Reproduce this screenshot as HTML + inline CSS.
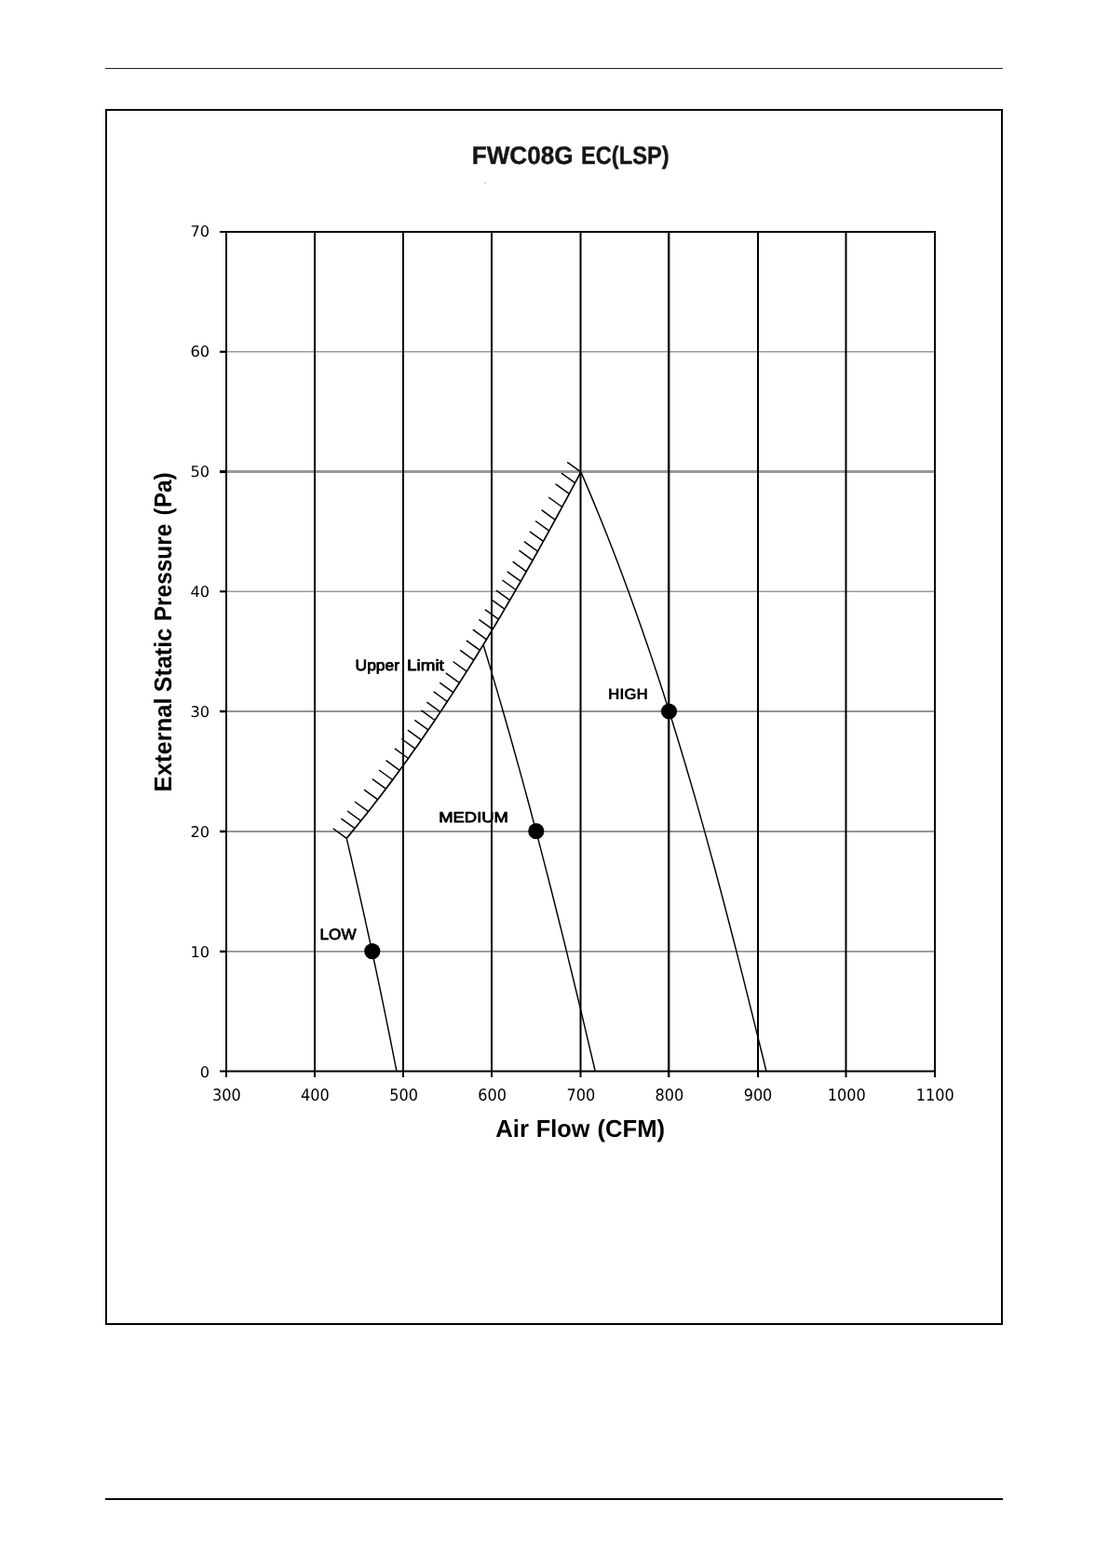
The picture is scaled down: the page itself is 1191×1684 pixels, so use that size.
<!DOCTYPE html>
<html lang="en">
<head>
<meta charset="utf-8">
<title>FWC08G EC(LSP)</title>
<style>
html,body{margin:0;padding:0;background:#fff;}
body{width:1191px;height:1684px;position:relative;overflow:hidden;font-family:"Liberation Sans",sans-serif;}
svg{position:absolute;left:0;top:0;display:block;}
.tk{font-family:"DejaVu Sans","Liberation Sans",sans-serif;font-size:16.5px;fill:#000;}
.b{font-family:"Liberation Sans",sans-serif;font-weight:bold;fill:#000;}
</style>
</head>
<body>
<svg width="1191" height="1684" viewBox="0 0 1191 1684" text-rendering="geometricPrecision">
<rect x="0" y="0" width="1191" height="1684" fill="#fff"/>

<rect x="113" y="73" width="964" height="1" fill="#202020"/>
<rect x="113" y="1609" width="964" height="2" fill="#000"/>
<rect x="114" y="118" width="962" height="1304" fill="none" stroke="#000" stroke-width="2"/>
<line x1="243.0" y1="377.79" x2="1004.0" y2="377.79" stroke="#999" stroke-width="1.6"/>
<line x1="243.0" y1="506.57" x2="1004.0" y2="506.57" stroke="#999" stroke-width="3.0"/>
<line x1="243.0" y1="635.25" x2="1004.0" y2="635.25" stroke="#999" stroke-width="1.5"/>
<line x1="243.0" y1="764.00" x2="1004.0" y2="764.00" stroke="#939393" stroke-width="1.9"/>
<line x1="243.0" y1="892.95" x2="1004.0" y2="892.95" stroke="#939393" stroke-width="1.9"/>
<line x1="243.0" y1="1021.90" x2="1004.0" y2="1021.90" stroke="#919191" stroke-width="1.75"/>
<line x1="243.00" y1="248.0" x2="243.00" y2="1157.0" stroke="#000" stroke-width="2.0"/>
<line x1="338.00" y1="248.0" x2="338.00" y2="1157.0" stroke="#000" stroke-width="2.0"/>
<line x1="433.00" y1="248.0" x2="433.00" y2="1157.0" stroke="#000" stroke-width="2.0"/>
<line x1="528.00" y1="248.0" x2="528.00" y2="1157.0" stroke="#000" stroke-width="2.0"/>
<line x1="623.50" y1="248.0" x2="623.50" y2="1157.0" stroke="#000" stroke-width="2.0"/>
<line x1="718.20" y1="248.0" x2="718.20" y2="1157.0" stroke="#000" stroke-width="2.4"/>
<line x1="814.00" y1="248.0" x2="814.00" y2="1157.0" stroke="#000" stroke-width="2.0"/>
<line x1="908.50" y1="248.0" x2="908.50" y2="1157.0" stroke="#000" stroke-width="2.0"/>
<line x1="1004.00" y1="248.0" x2="1004.00" y2="1157.0" stroke="#000" stroke-width="2.0"/>
<line x1="242.0" y1="249.0" x2="1005.0" y2="249.0" stroke="#000" stroke-width="2"/>
<line x1="236.0" y1="1150.5" x2="1005.0" y2="1150.5" stroke="#000" stroke-width="2"/>
<line x1="236" y1="249.00" x2="243.0" y2="249.00" stroke="#000" stroke-width="2.0"/>
<line x1="236" y1="377.79" x2="243.0" y2="377.79" stroke="#000" stroke-width="2.2"/>
<line x1="236" y1="506.57" x2="243.0" y2="506.57" stroke="#000" stroke-width="3.0"/>
<line x1="236" y1="635.25" x2="243.0" y2="635.25" stroke="#000" stroke-width="2.1"/>
<line x1="236" y1="764.00" x2="243.0" y2="764.00" stroke="#000" stroke-width="2.5"/>
<line x1="236" y1="892.95" x2="243.0" y2="892.95" stroke="#000" stroke-width="2.5"/>
<line x1="236" y1="1021.90" x2="243.0" y2="1021.90" stroke="#000" stroke-width="2.35"/>
<g fill="none" stroke="#000" stroke-width="1.5" stroke-linejoin="round" stroke-linecap="butt">
<polyline points="372.30,900.30 377.80,893.64 383.23,886.98 388.60,880.32 393.91,873.66 399.15,867.00 404.33,860.34 409.45,853.68 414.52,847.03 419.53,840.37 424.48,833.71 429.38,827.05 434.23,820.39 439.03,813.73 443.77,807.07 448.48,800.41 453.13,793.75 457.74,787.09 462.30,780.43 466.82,773.77 471.30,767.11 475.74,760.45 480.14,753.79 484.50,747.14 488.82,740.48 493.11,733.82 497.36,727.16 501.58,720.50 505.77,713.84 509.92,707.18 514.04,700.52 518.14,693.86 522.20,687.20 526.23,680.54 530.24,673.88 534.22,667.22 538.18,660.56 542.10,653.91 546.01,647.25 549.89,640.59 553.75,633.93 557.59,627.27 561.40,620.61 565.20,613.95 568.97,607.29 572.73,600.63 576.46,593.97 580.18,587.31 583.88,580.65 587.57,573.99 591.23,567.33 594.88,560.67 598.52,554.02 602.14,547.36 605.74,540.70 609.33,534.04 612.90,527.38 616.47,520.72 620.01,514.06 623.55,507.40" stroke-width="1.7"/>
<polyline points="372.20,900.30 373.70,906.70 375.19,913.11 376.68,919.51 378.16,925.91 379.64,932.31 381.11,938.72 382.57,945.12 384.02,951.52 385.47,957.92 386.91,964.33 388.35,970.73 389.78,977.13 391.20,983.53 392.61,989.94 394.02,996.34 395.42,1002.74 396.82,1009.14 398.21,1015.55 399.59,1021.95 400.96,1028.35 402.33,1034.75 403.70,1041.16 405.05,1047.56 406.40,1053.96 407.74,1060.36 409.08,1066.77 410.41,1073.17 411.73,1079.57 413.04,1085.97 414.35,1092.38 415.66,1098.78 416.95,1105.18 418.24,1111.58 419.52,1117.99 420.80,1124.39 422.07,1130.79 423.33,1137.19 424.59,1143.60 425.84,1150.00" stroke-width="1.45"/>
<polyline points="519.21,693.00 522.77,704.72 526.30,716.44 529.79,728.15 533.25,739.87 536.68,751.59 540.07,763.31 543.44,775.03 546.78,786.74 550.08,798.46 553.36,810.18 556.61,821.90 559.84,833.62 563.03,845.33 566.21,857.05 569.35,868.77 572.47,880.49 575.57,892.21 578.65,903.92 581.70,915.64 584.73,927.36 587.74,939.08 590.73,950.79 593.70,962.51 596.65,974.23 599.58,985.95 602.49,997.67 605.39,1009.38 608.27,1021.10 611.14,1032.82 613.99,1044.54 616.83,1056.26 619.65,1067.97 622.47,1079.69 625.26,1091.41 628.05,1103.13 630.83,1114.85 633.60,1126.56 636.35,1138.28 639.10,1150.00" stroke-width="1.45"/>
<polyline points="624.11,507.40 631.14,523.88 638.02,540.35 644.75,556.83 651.34,573.31 657.80,589.78 664.12,606.26 670.31,622.74 676.38,639.22 682.33,655.69 688.15,672.17 693.87,688.65 699.47,705.12 704.97,721.60 710.36,738.08 715.65,754.55 720.85,771.03 725.96,787.51 730.98,803.98 735.92,820.46 740.77,836.94 745.55,853.42 750.26,869.89 754.90,886.37 759.47,902.85 763.98,919.32 768.44,935.80 772.84,952.28 777.19,968.75 781.49,985.23 785.76,1001.71 789.98,1018.18 794.17,1034.66 798.33,1051.14 802.46,1067.62 806.57,1084.09 810.66,1100.57 814.74,1117.05 818.80,1133.52 822.85,1150.00" stroke-width="1.45"/>
<line x1="372.3" y1="900.3" x2="357.7" y2="889.8"/>
<line x1="381.0" y1="889.7" x2="366.4" y2="879.2"/>
<line x1="387.6" y1="881.6" x2="373.0" y2="871.0"/>
<line x1="395.6" y1="871.6" x2="381.0" y2="861.0"/>
<line x1="405.6" y1="858.7" x2="391.0" y2="848.1"/>
<line x1="414.4" y1="847.2" x2="399.8" y2="836.6"/>
<line x1="421.6" y1="837.5" x2="407.0" y2="827.0"/>
<line x1="429.2" y1="827.3" x2="414.6" y2="816.7"/>
<line x1="438.5" y1="814.5" x2="423.9" y2="803.9"/>
<line x1="445.9" y1="804.1" x2="431.3" y2="793.5"/>
<line x1="452.5" y1="794.7" x2="437.9" y2="784.2"/>
<line x1="459.9" y1="783.9" x2="445.3" y2="773.4"/>
<line x1="467.0" y1="773.5" x2="452.4" y2="762.9"/>
<line x1="473.0" y1="764.6" x2="458.4" y2="754.1"/>
<line x1="480.3" y1="753.5" x2="465.8" y2="742.9"/>
<line x1="486.8" y1="743.7" x2="472.2" y2="733.1"/>
<line x1="493.4" y1="733.4" x2="478.8" y2="722.8"/>
<line x1="501.2" y1="721.1" x2="486.6" y2="710.5"/>
<line x1="508.8" y1="708.9" x2="494.2" y2="698.4"/>
<line x1="515.4" y1="698.4" x2="500.8" y2="687.8"/>
<line x1="522.5" y1="686.8" x2="507.9" y2="676.2"/>
<line x1="529.0" y1="675.9" x2="514.4" y2="665.4"/>
<line x1="535.5" y1="665.1" x2="520.9" y2="654.6"/>
<line x1="541.9" y1="654.2" x2="527.3" y2="643.7"/>
<line x1="547.6" y1="644.6" x2="533.0" y2="634.1"/>
<line x1="554.0" y1="633.5" x2="539.4" y2="623.0"/>
<line x1="559.3" y1="624.3" x2="544.7" y2="613.8"/>
<line x1="565.3" y1="613.8" x2="550.7" y2="603.2"/>
<line x1="572.1" y1="601.8" x2="557.5" y2="591.2"/>
<line x1="577.4" y1="592.2" x2="562.9" y2="581.7"/>
<line x1="583.5" y1="581.4" x2="568.9" y2="570.9"/>
<line x1="589.7" y1="570.1" x2="575.1" y2="559.5"/>
<line x1="596.2" y1="558.3" x2="581.6" y2="547.7"/>
<line x1="603.7" y1="544.5" x2="589.1" y2="534.0"/>
<line x1="611.3" y1="530.4" x2="596.7" y2="519.9"/>
<line x1="617.5" y1="518.7" x2="602.9" y2="508.2"/>
<line x1="623.8" y1="506.9" x2="609.2" y2="496.4"/>
</g>
<circle cx="399.8" cy="1021.6" r="8.6" fill="#000"/>
<circle cx="575.8" cy="892.7" r="8.6" fill="#000"/>
<circle cx="718.5" cy="764.0" r="8.6" fill="#000"/>
<text class="tk" transform="translate(225.1 253.85) scale(1.01 1)" text-anchor="end" style="font-size:16.1px">70</text>
<text class="tk" transform="translate(225.1 382.83) scale(1.01 1)" text-anchor="end" style="font-size:16.1px">60</text>
<text class="tk" transform="translate(225.1 511.81) scale(1.01 1)" text-anchor="end" style="font-size:16.1px">50</text>
<text class="tk" transform="translate(225.1 640.79) scale(1.01 1)" text-anchor="end" style="font-size:16.1px">40</text>
<text class="tk" transform="translate(225.1 769.77) scale(1.01 1)" text-anchor="end" style="font-size:16.1px">30</text>
<text class="tk" transform="translate(225.1 898.75) scale(1.01 1)" text-anchor="end" style="font-size:16.1px">20</text>
<text class="tk" transform="translate(225.1 1027.73) scale(1.01 1)" text-anchor="end" style="font-size:16.1px">10</text>
<text class="tk" transform="translate(225.1 1156.71) scale(1.01 1)" text-anchor="end" style="font-size:16.1px">0</text>
<text class="tk" transform="translate(243.3 1181.8) scale(0.92 1)" font-size="17.5" text-anchor="middle" style="font-size:17.5px">300</text>
<text class="tk" transform="translate(338.4 1181.8) scale(0.92 1)" font-size="17.5" text-anchor="middle" style="font-size:17.5px">400</text>
<text class="tk" transform="translate(433.6 1181.8) scale(0.92 1)" font-size="17.5" text-anchor="middle" style="font-size:17.5px">500</text>
<text class="tk" transform="translate(528.7 1181.8) scale(0.92 1)" font-size="17.5" text-anchor="middle" style="font-size:17.5px">600</text>
<text class="tk" transform="translate(623.8 1181.8) scale(0.92 1)" font-size="17.5" text-anchor="middle" style="font-size:17.5px">700</text>
<text class="tk" transform="translate(718.9 1181.8) scale(0.92 1)" font-size="17.5" text-anchor="middle" style="font-size:17.5px">800</text>
<text class="tk" transform="translate(814.0 1181.8) scale(0.92 1)" font-size="17.5" text-anchor="middle" style="font-size:17.5px">900</text>
<text class="tk" transform="translate(909.2 1181.8) scale(0.92 1)" font-size="17.5" text-anchor="middle" style="font-size:17.5px">1000</text>
<text class="tk" transform="translate(1004.3 1181.8) scale(0.92 1)" font-size="17.5" text-anchor="middle" style="font-size:17.5px">1100</text>
<text y="175.74" font-family="'Liberation Sans',sans-serif" font-weight="bold" font-size="27.01" fill="#161616" stroke="#161616" stroke-width="0.40" stroke-linejoin="round"><tspan x="506.74" textLength="108.89" lengthAdjust="spacingAndGlyphs">FWC08G</tspan> <tspan x="624.00" textLength="94.58" lengthAdjust="spacingAndGlyphs">EC(LSP)</tspan></text>
<rect x="520" y="196" width="2" height="1" fill="#bbb"/>
<text y="1220.90" font-family="'Liberation Sans',sans-serif" font-weight="bold" font-size="26.16" fill="#000"><tspan x="532.26" textLength="35.71" lengthAdjust="spacingAndGlyphs">Air</tspan> <tspan x="575.69" textLength="57.64" lengthAdjust="spacingAndGlyphs">Flow</tspan> <tspan x="641.42" textLength="72.65" lengthAdjust="spacingAndGlyphs">(CFM)</tspan></text>
<text transform="translate(183.80 848.70) rotate(-90)" y="0.00" font-family="'Liberation Sans',sans-serif" font-weight="bold" font-size="26.16" fill="#000"><tspan x="-1.73" textLength="101.06" lengthAdjust="spacingAndGlyphs">External</tspan> <tspan x="105.45" textLength="68.46" lengthAdjust="spacingAndGlyphs">Static</tspan> <tspan x="181.55" textLength="104.46" lengthAdjust="spacingAndGlyphs">Pressure</tspan> <tspan x="295.28" textLength="46.19" lengthAdjust="spacingAndGlyphs">(Pa)</tspan></text>
<text y="719.68" font-family="'Liberation Sans',sans-serif" font-weight="normal" font-size="16.37" fill="#000" stroke="#000" stroke-width="0.80" stroke-linejoin="round"><tspan x="381.55" textLength="47.54" lengthAdjust="spacingAndGlyphs">Upper</tspan> <tspan x="437.04" textLength="39.82" lengthAdjust="spacingAndGlyphs">Limit</tspan></text>
<text y="750.80" font-family="'Liberation Sans',sans-serif" font-weight="bold" font-size="16.86" fill="#000"><tspan x="653.04" textLength="43.02" lengthAdjust="spacingAndGlyphs">HIGH</tspan></text>
<text y="883.38" font-family="'Liberation Sans',sans-serif" font-weight="normal" font-size="15.64" fill="#000" stroke="#000" stroke-width="0.80" stroke-linejoin="round"><tspan x="471.28" textLength="74.64" lengthAdjust="spacingAndGlyphs">MEDIUM</tspan></text>
<text y="1009.28" font-family="'Liberation Sans',sans-serif" font-weight="normal" font-size="16.51" fill="#000" stroke="#000" stroke-width="0.80" stroke-linejoin="round"><tspan x="343.59" textLength="38.96" lengthAdjust="spacingAndGlyphs">LOW</tspan></text>
</svg>
</body>
</html>
